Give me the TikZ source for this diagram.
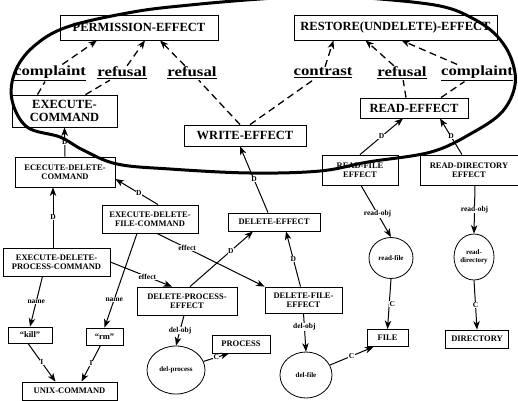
\documentclass[tikz,border=0pt]{standalone}
\usepackage{fontspec}
\setmainfont{Liberation Serif}
\newfontfamily\lblfont{Liberation Serif}[FakeStretch=1.2]
\usetikzlibrary{arrows.meta,shapes.geometric}
\begin{document}
\begin{tikzpicture}[x=1pt,y=-1pt,
  >={Stealth[length=8.5pt,width=6.5pt,inset=2.5pt]},
  bigbox/.style={draw, line width=0.8pt, font=\bfseries\fontsize{12.5}{13}\selectfont, inner sep=1pt, align=center},
  smallbox/.style={draw, line width=0.8pt, font=\bfseries\fontsize{8.5}{9.5}\selectfont, inner sep=1pt, align=center},
  oval/.style={draw, ellipse, line width=0.8pt, font=\bfseries\fontsize{7}{8}\selectfont, inner sep=0pt, align=center},
  rel/.style={font=\lblfont\bfseries\fontsize{14}{15}\selectfont, fill=white, inner sep=1pt},
  elab/.style={font=\bfseries\fontsize{7.5}{8.5}\selectfont, fill=white, inner sep=0.5pt},
  dline/.style={dash pattern=on 7pt off 4.5pt, line width=1.3pt},
  sline/.style={line width=1pt},
  loop/.style={line width=3pt, line join=round}]
\useasboundingbox (0,0) rectangle (518,400);
\clip (0,0) rectangle (518,400);
% top level
\node[bigbox, minimum width=158, minimum height=25] (pe) at (139,27.5) {PERMISSION-EFFECT};
\node[bigbox, minimum width=203, minimum height=25] (ru) at (395.5,27.5) {RESTORE(UNDELETE)-EFFECT};
\node[bigbox, minimum width=105, minimum height=32] (ec) at (64.5,111) {EXECUTE-\\COMMAND};
\node[bigbox, minimum width=122, minimum height=21] (we) at (245,135.5) {WRITE-EFFECT};
\node[bigbox, minimum width=108, minimum height=20] (re) at (414,108) {READ-EFFECT};
% relation labels
\node[rel] (c1) at (50,73) {\underline{complaint}};
\node[rel] (r1) at (122,73) {\underline{refusal}};
\node[rel] (r2) at (192,73) {\underline{refusal}};
\node[rel] (ct) at (323,73) {\underline{contrast}};
\node[rel] (r3) at (402,73) {\underline{refusal}};
\node[rel] (c2) at (477,73) {\underline{complaint}};
% small boxes
\node[smallbox, minimum width=100, minimum height=30] (ecd) at (65,172) {ECECUTE-DELETE-\\COMMAND};
\node[smallbox, minimum width=76, minimum height=30] (rfe) at (360,170) {READ-FILE\\EFFECT};
\node[smallbox, minimum width=98, minimum height=30] (rde) at (469,170) {READ-DIRECTORY\\EFFECT};
\node[smallbox, minimum width=96, minimum height=28] (edfc) at (150,219) {EXECUTE-DELETE-\\FILE-COMMAND};
\node[smallbox, minimum width=92, minimum height=18] (de) at (274,222) {DELETE-EFFECT};
\node[smallbox, minimum width=107, minimum height=28] (edpc) at (56.5,262) {EXECUTE-DELETE-\\PROCESS-COMMAND};
\node[smallbox, minimum width=100, minimum height=28] (dpe) at (187,301) {DELETE-PROCESS-\\EFFECT};
\node[smallbox, minimum width=77, minimum height=26] (dfe) at (303.5,300) {DELETE-FILE-\\EFFECT};
\node[smallbox, minimum width=44, minimum height=16] (kill) at (30,335) {``kill''};
\node[smallbox, minimum width=37, minimum height=17] (rm) at (104.5,336.5) {``rm''};
\node[smallbox, minimum width=95, minimum height=18] (unix) at (69.5,391) {UNIX-COMMAND};
\node[smallbox, minimum width=58, minimum height=18] (proc) at (241,344) {PROCESS};
\node[smallbox, minimum width=41, minimum height=17] (file) at (387.5,338) {FILE};
\node[smallbox, minimum width=63, minimum height=18] (dir) at (477,339) {DIRECTORY};
% ovals
\node[oval, minimum width=58, minimum height=48] (dp) at (176,370) {del-process};
\node[oval, minimum width=52, minimum height=46] (df) at (306,375) {del-file};
\node[oval, minimum width=44, minimum height=41] (rf) at (391,258) {read-file};
\node[oval, minimum width=40, minimum height=46] (rd) at (474,257) {read-\\directory};
% dashed relations
\draw[dline] ([xshift=-27pt]ec.north) -- (c1);
\draw[dline,->] (c1) -- ([xshift=-42pt]pe.south);
\draw[dline] ([xshift=21pt]ec.north) -- (r1);
\draw[dline,->] (r1) -- ([xshift=6pt]pe.south);
\draw[dline] ([xshift=-5pt]we.north) -- (r2);
\draw[dline,->] (r2) -- ([xshift=21pt]pe.south);
\draw[dline] ([xshift=5pt]we.north) -- (ct);
\draw[dline,->] (ct) -- ([xshift=-62pt]ru.south);
\draw[dline] ([xshift=-8pt]re.north) -- (r3);
\draw[dline,->] (r3) -- ([xshift=-30pt]ru.south);
\draw[dline] ([xshift=27pt]re.north) -- (c2);
\draw[dline,->] (c2) -- ([xshift=6pt]ru.south);
% D links
\draw[sline,->] (ecd.north) -- node[elab]{D} (ec.south);
\draw[sline,->] ([xshift=-3.5pt]edpc.north) -- node[elab]{D} ([xshift=-12pt]ecd.south);
\draw[sline,->] ([xshift=8pt]edfc.north) -- node[elab,pos=0.45]{D} ([yshift=-7pt]ecd.east);
\draw[sline,->] ([xshift=-6pt]de.north) -- node[elab]{D} ([xshift=-5pt]we.south);
\draw[sline,->] (rfe.north) -- node[elab]{D} ([xshift=-11pt]re.south);
\draw[sline,->] ([xshift=-7pt]rde.north) -- node[elab]{D} ([xshift=26pt]re.south);
\draw[sline,->] ([xshift=3pt]dpe.north) -- node[elab,pos=0.65]{D} ([xshift=-21pt]de.south);
\draw[sline,->] ([xshift=-3pt]dfe.north) -- node[elab]{D} ([xshift=12pt]de.south);
% effect / name / I links
\draw[sline,->] ([xshift=7pt]edfc.south) -- node[elab,pos=0.28]{effect} (dfe.north west);
\draw[sline,->] (edpc.east) -- node[elab,pos=0.6]{effect} ([xshift=-15pt]dpe.north);
\draw[sline,->] ([xshift=-13pt]edfc.south) -- node[elab,pos=0.7]{name} (rm.north);
\draw[sline,->] ([xshift=-14pt]edpc.south) -- node[elab]{name} (kill.north);
\draw[sline,->] ([xshift=-2pt]kill.south) -- node[elab]{I} ([xshift=-14pt]unix.north);
\draw[sline,->] ([xshift=-4pt]rm.south) -- node[elab]{I} ([xshift=12pt]unix.north);
% objects
\draw[sline,->] ([xshift=-3pt]dpe.south) -- node[elab]{del-obj} (dp.north);
\draw[sline,->] (dp) -- node[elab]{C} ([xshift=-12pt]proc.south);
\draw[sline,->] (dfe.south) -- node[elab,pos=0.35]{del-obj} (df.north);
\draw[sline,->] (df) -- node[elab]{C} ([xshift=-14pt]file.south);
\draw[sline,->] (rf.south) -- node[elab,xshift=3pt]{C} (file.north);
\draw[sline,->] (rd.south) -- node[elab]{C} (dir.north);
\draw[sline,->] ([xshift=1pt]rfe.south) -- node[elab,pos=0.55]{read-obj} (rf.north);
\draw[sline,->] ([xshift=6pt]rde.south) -- node[elab]{read-obj} (rd.north);
% the big loop
\draw[loop] plot[smooth cycle, tension=0.6] coordinates {
  (60,137) (83,150) (117,164) (170,169) (250,173) (320,171) (368,162)
  (431,152) (472,133) (502,112) (515,85) (511,58) (496,35) (472,18)
  (440,6) (380,-1) (320,-4) (260,-1) (190,5) (133,12) (67,27) (33,47)
  (15,72) (12,100) (27,127)};
\end{tikzpicture}
\end{document}
